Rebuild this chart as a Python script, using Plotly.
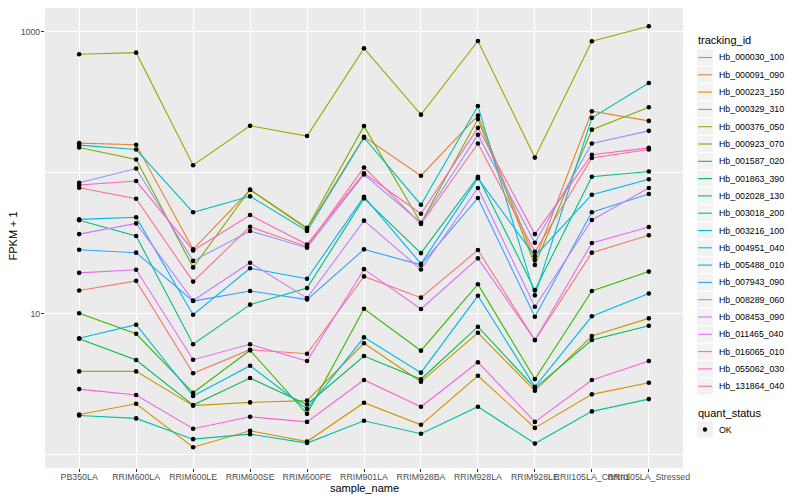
import plotly.graph_objects as go

samples = ["PB350LA", "RRIM600LA", "RRIM600LE", "RRIM600SE", "RRIM600PE",
           "RRIM901LA", "RRIM928BA", "RRIM928LA", "RRIM928LE",
           "RRII105LA_Control", "RRII105LA_Stressed"]

tracking_ids = ["Hb_000030_100", "Hb_000091_090", "Hb_000223_150", "Hb_000329_310",
                "Hb_000376_050", "Hb_000923_070", "Hb_001587_020", "Hb_001863_390",
                "Hb_002028_130", "Hb_003018_200", "Hb_003216_100", "Hb_004951_040",
                "Hb_005488_010", "Hb_007943_090", "Hb_008289_060", "Hb_008453_090",
                "Hb_011465_040", "Hb_016065_010", "Hb_055062_030", "Hb_131864_040"]

colors = ["#F8766D", "#EA8331", "#D89000", "#C09B00", "#A3A500", "#7CAE00", "#39B600",
          "#00BB4E", "#00BF7D", "#00C1A3", "#00BFC4", "#00BAE0", "#00B0F6", "#35A2FF",
          "#9590FF", "#C77CFF", "#E76BF3", "#FA62DB", "#FF62BC", "#FF6C91"]

# FPKM + 1 per sample (same order as samples)
hb_000030_100 = [14.6, 17.1, 3.78, 5.56, 5.20, 18.4, 13.0, 28.3, 6.5, 27.1, 36.0]
hb_000091_090 = [162, 158, 28.6, 75.4, 39.9, 180, 95.2, 254, 24.0, 273, 233]
hb_000223_150 = [1.93, 2.30, 1.13, 1.48, 1.24, 2.34, 1.63, 3.63, 1.55, 2.68, 3.24]
hb_000329_310 = [3.90, 3.90, 2.23, 2.35, 2.42, 6.17, 3.29, 7.33, 2.84, 6.95, 9.27]
hb_000376_050 = [692, 710, 113, 215, 182, 762, 258, 859, 128, 855, 1092]
hb_000923_070 = [151, 124, 21.3, 76.0, 40.6, 214, 44.0, 240, 22.2, 202, 291]
hb_001587_020 = [10.07, 7.21, 2.75, 5.50, 1.95, 10.85, 5.47, 16.2, 3.44, 14.5, 19.9]
hb_001863_390 = [6.65, 4.70, 2.25, 3.50, 2.27, 5.01, 3.43, 8.09, 2.97, 6.51, 8.22]
hb_002028_130 = [46.0, 35.6, 6.07, 11.6, 15.2, 65.8, 26.9, 93.7, 14.7, 93.7, 102]
hb_003018_200 = [1.90, 1.81, 1.29, 1.40, 1.21, 1.74, 1.41, 2.19, 1.20, 2.03, 2.48]
hb_003216_100 = [157, 146, 52.4, 68.0, 38.6, 177, 59.3, 297, 13.5, 245, 433]
hb_004951_040 = [6.70, 8.36, 2.61, 4.28, 2.11, 6.80, 3.82, 13.4, 3.03, 9.59, 13.9]
hb_005488_010 = [46.7, 48.3, 9.84, 21.0, 17.7, 67.6, 22.6, 91.3, 25.6, 69.8, 89.8]
hb_007943_090 = [28.4, 27.1, 12.3, 14.5, 12.6, 28.6, 22.2, 66.2, 9.52, 52.4, 70.6]
hb_008289_060 = [84.9, 107, 23.7, 38.6, 29.4, 97.1, 44.2, 186, 31.9, 161, 198]
hb_008453_090 = [36.7, 43.7, 12.4, 23.0, 12.9, 45.7, 20.6, 77.9, 11.2, 46.2, 77.9]
hb_011465_040 = [19.5, 20.5, 4.72, 6.07, 4.62, 20.7, 10.8, 24.7, 6.51, 31.7, 41.2]
hb_016065_010 = [2.92, 2.65, 1.53, 1.86, 1.71, 3.39, 2.19, 4.52, 1.71, 3.39, 4.62]
hb_055062_030 = [81.8, 87.3, 28.1, 50.1, 31.0, 99.0, 51.2, 208, 36.7, 134, 150]
hb_131864_040 = [78.3, 65.4, 16.9, 41.4, 29.9, 109, 43.3, 161, 27.5, 127, 146]

series = [hb_000030_100, hb_000091_090, hb_000223_150, hb_000329_310, hb_000376_050,
          hb_000923_070, hb_001587_020, hb_001863_390, hb_002028_130, hb_003018_200,
          hb_003216_100, hb_004951_040, hb_005488_010, hb_007943_090, hb_008289_060,
          hb_008453_090, hb_011465_040, hb_016065_010, hb_055062_030, hb_131864_040]

FONT = "Liberation Sans, Arial, Helvetica, sans-serif"
W, H = 800, 500
OFF = 8  # page body margin offset of the figure in the browser window
# plot panel in window pixels
PL, PR, PT, PB = 45, 683, 8, 468
L, R, T, B = PL - OFF, PR - OFF, PT - OFF, PB - OFF


def px(x):
    return (x - OFF - L) / (R - L)


def py(y):
    return (B - (y - OFF)) / (B - T)


fig = go.Figure()
for name, col, vals in zip(tracking_ids, colors, series):
    fig.add_trace(go.Scatter(x=samples, y=vals, mode="lines", name=name,
                             line=dict(color=col, width=1.1), showlegend=False,
                             hoverinfo="skip"))

all_x = [s for _ in series for s in samples]
all_y = [v for vals in series for v in vals]
fig.add_trace(go.Scatter(x=all_x, y=all_y, mode="markers", name="OK",
                         marker=dict(color="black", size=4.6, line=dict(width=0)),
                         showlegend=False))

shapes = []
annotations = []

# legend: tracking_id
annotations.append(dict(x=px(696), y=py(40.5), xref="paper", yref="paper",
                        text="tracking_id", showarrow=False, xanchor="left",
                        yanchor="middle", font=dict(size=11, color="black", family=FONT)))
for i, (name, col) in enumerate(zip(tracking_ids, colors)):
    cy = 57.5 + 17.3 * i
    shapes.append(dict(type="rect", xref="paper", yref="paper",
                       x0=px(696.5), x1=px(713.5), y0=py(cy - 8.6), y1=py(cy + 8.6),
                       fillcolor="#F2F2F2", line=dict(color="white", width=1)))
    shapes.append(dict(type="line", xref="paper", yref="paper",
                       x0=px(698), x1=px(712), y0=py(cy), y1=py(cy),
                       line=dict(color=col, width=1.1)))
    annotations.append(dict(x=px(716.5), y=py(cy), xref="paper", yref="paper",
                            text=name, showarrow=False, xanchor="left", yanchor="middle",
                            font=dict(size=8.8, color="black", family=FONT)))

# legend: quant_status
annotations.append(dict(x=px(696), y=py(412.5), xref="paper", yref="paper",
                        text="quant_status", showarrow=False, xanchor="left",
                        yanchor="middle", font=dict(size=11, color="black", family=FONT)))
cy = 429.5
shapes.append(dict(type="rect", xref="paper", yref="paper",
                   x0=px(696.5), x1=px(713.5), y0=py(cy - 8.6), y1=py(cy + 8.6),
                   fillcolor="#F2F2F2", line=dict(color="white", width=1)))
shapes.append(dict(type="circle", xref="paper", yref="paper",
                   x0=px(702.8), x1=px(707.2), y0=py(cy - 2.2), y1=py(cy + 2.2),
                   fillcolor="black", line=dict(color="black", width=0)))
annotations.append(dict(x=px(716.5), y=py(cy), xref="paper", yref="paper",
                        text="OK", showarrow=False, xanchor="left", yanchor="middle",
                        font=dict(size=8.8, color="black", family=FONT)))

# axis titles
annotations.append(dict(x=px(364), y=py(488), xref="paper", yref="paper",
                        text="sample_name", showarrow=False, xanchor="center",
                        yanchor="middle", font=dict(size=11, color="black", family=FONT)))
annotations.append(dict(x=px(13), y=py(236.5), xref="paper", yref="paper",
                        text="FPKM + 1", showarrow=False, xanchor="center", textangle=-90,
                        yanchor="middle", font=dict(size=11, color="black", family=FONT)))

fig.update_layout(
    width=W, height=H,
    margin=dict(l=L, r=W - R, t=T, b=H - B, pad=0, autoexpand=False),
    paper_bgcolor="white", plot_bgcolor="#EBEBEB",
    font=dict(family=FONT),
    shapes=shapes, annotations=annotations,
    showlegend=False,
    xaxis=dict(type="category", categoryorder="array", categoryarray=samples,
               range=[-0.6, 10.6], showgrid=True, gridcolor="white", gridwidth=1.1,
               zeroline=False, showline=False, ticks="outside", ticklen=3,
               tickwidth=1.07, tickcolor="#333333", tickangle=0,
               ticklabelstandoff=-3, automargin=False,
               tickfont=dict(size=8.8, color="#4D4D4D", family=FONT)),
    yaxis=dict(type="log", range=[-0.094, 3.168], tickmode="array",
               tickvals=[10, 1000], ticktext=["10", "1000"],
               showgrid=True, gridcolor="white", gridwidth=1.1,
               zeroline=False, showline=False, ticks="outside", ticklen=3,
               tickwidth=1.07, tickcolor="#333333",
               ticklabelstandoff=-1, automargin=False,
               tickfont=dict(size=8.8, color="#4D4D4D", family=FONT),
               minor=dict(tickmode="array", tickvals=[1, 100], showgrid=True,
                          gridcolor="white", gridwidth=0.55, ticks="")),
)

fig.write_html("out.html")
